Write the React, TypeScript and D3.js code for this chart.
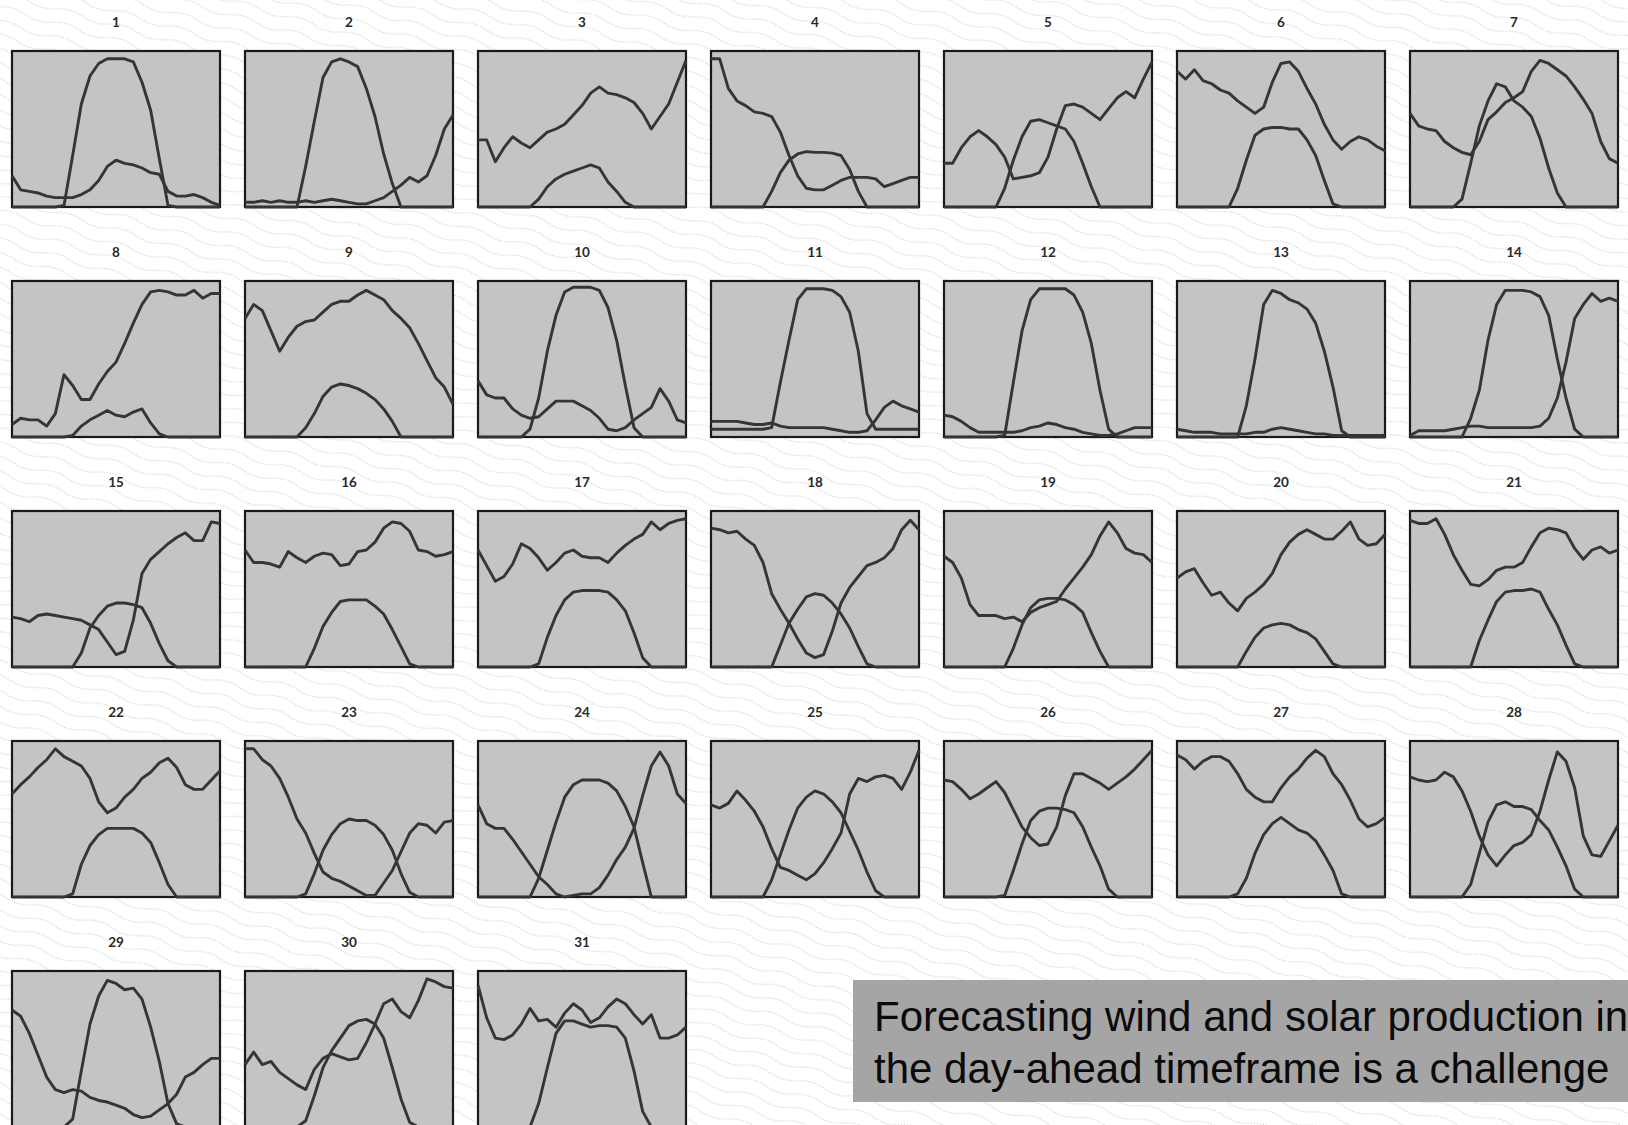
import * as d3 from "d3";

// 31 days, hourly values 0..24, normalised to the panel height (0 = bottom, 1 = top)
const dayLabels = d3.range(1, 32).map(String);
const hours = d3.range(0, 25);

const wind = [
  [.20,.11,.10,.09,.07,.06,.06,.06,.08,.11,.17,.26,.30,.28,.27,.25,.22,.21,.10,.07,.07,.08,.06,.03,.01],
  [.03,.03,.04,.03,.04,.03,.03,.04,.03,.04,.05,.04,.03,.02,.02,.04,.06,.10,.14,.19,.16,.20,.33,.50,.59],
  [.43,.43,.29,.38,.45,.41,.38,.43,.48,.50,.53,.59,.65,.73,.77,.73,.72,.70,.67,.60,.50,.58,.66,.80,.94],
  [.95,.95,.76,.68,.65,.61,.60,.58,.48,.33,.20,.12,.11,.11,.14,.17,.19,.19,.19,.18,.13,.15,.17,.19,.19],
  [.28,.28,.38,.45,.49,.45,.40,.32,.18,.19,.20,.22,.32,.50,.65,.66,.64,.60,.56,.63,.70,.74,.70,.82,.93],
  [.87,.82,.88,.81,.79,.75,.73,.68,.64,.60,.64,.80,.92,.93,.87,.76,.66,.53,.43,.37,.42,.45,.43,.39,.36],
  [.60,.52,.50,.49,.42,.38,.35,.335,.42,.56,.61,.67,.70,.74,.87,.94,.92,.88,.84,.77,.69,.60,.42,.31,.28],
  [.08,.12,.11,.11,.07,.15,.40,.33,.24,.24,.34,.42,.48,.60,.73,.85,.93,.94,.93,.91,.91,.94,.89,.92,.92],
  [.76,.85,.81,.68,.55,.64,.71,.74,.75,.80,.85,.87,.87,.91,.94,.91,.88,.81,.76,.70,.60,.49,.38,.32,.21],
  [.36,.27,.25,.25,.18,.14,.12,.13,.18,.23,.23,.23,.20,.17,.12,.05,.04,.06,.11,.15,.19,.31,.23,.11,.09],
  [.10,.10,.10,.10,.09,.08,.08,.09,.07,.06,.06,.06,.06,.06,.05,.04,.03,.03,.04,.11,.19,.23,.20,.18,.16],
  [.14,.13,.10,.06,.03,.03,.03,.03,.03,.04,.06,.07,.09,.08,.06,.05,.03,.02,.01,.01,.02,.04,.06,.06,.06],
  [.05,.04,.03,.03,.03,.02,.02,.02,.02,.03,.03,.05,.06,.05,.04,.03,.02,.02,.01,.01,.01,.01,.01,.01,.01],
  [.01,.04,.04,.04,.04,.05,.06,.07,.07,.06,.06,.06,.06,.06,.06,.07,.12,.25,.48,.76,.85,.92,.87,.89,.87],
  [.32,.31,.29,.33,.34,.33,.32,.31,.30,.27,.24,.16,.08,.10,.30,.60,.69,.74,.79,.83,.86,.81,.81,.93,.92],
  [.75,.67,.67,.66,.64,.74,.70,.67,.71,.73,.72,.65,.66,.74,.75,.80,.89,.93,.92,.87,.75,.74,.71,.72,.74],
  [.75,.65,.55,.58,.66,.79,.76,.70,.62,.67,.73,.75,.71,.70,.70,.67,.73,.78,.82,.85,.93,.88,.92,.94,.95],
  [.89,.88,.86,.87,.82,.78,.67,.47,.37,.28,.18,.09,.06,.08,.23,.41,.51,.58,.65,.67,.70,.76,.88,.94,.88],
  [.71,.67,.57,.40,.33,.33,.33,.31,.32,.29,.35,.38,.40,.42,.50,.57,.64,.72,.84,.93,.86,.76,.73,.72,.67],
  [.57,.61,.63,.54,.46,.48,.41,.36,.44,.48,.53,.60,.72,.80,.85,.88,.85,.82,.82,.87,.93,.82,.78,.79,.85],
  [.94,.92,.92,.95,.85,.72,.62,.53,.52,.56,.62,.64,.64,.67,.77,.86,.89,.88,.86,.76,.69,.75,.77,.73,.75],
  [.66,.72,.77,.83,.88,.95,.90,.87,.84,.76,.61,.54,.57,.64,.69,.76,.80,.86,.89,.83,.72,.69,.69,.75,.81],
  [.95,.95,.88,.84,.76,.64,.50,.41,.28,.16,.12,.10,.07,.04,.01,.01,.09,.17,.29,.41,.47,.46,.41,.48,.49],
  [.59,.47,.44,.44,.37,.29,.21,.13,.08,.02,0,.01,.02,.02,.06,.14,.24,.32,.44,.65,.84,.93,.84,.66,.60],
  [.59,.57,.60,.68,.62,.55,.45,.31,.19,.17,.14,.11,.15,.22,.31,.41,.66,.76,.74,.77,.78,.76,.69,.80,.94],
  [.75,.74,.69,.63,.66,.70,.74,.67,.56,.45,.38,.33,.34,.45,.65,.79,.79,.76,.73,.69,.73,.77,.82,.88,.94],
  [.91,.88,.82,.87,.90,.90,.87,.79,.69,.64,.61,.61,.70,.77,.82,.89,.94,.90,.79,.72,.62,.50,.45,.47,.51],
  [.77,.75,.74,.75,.80,.77,.68,.55,.39,.27,.20,.27,.33,.35,.40,.55,.75,.93,.87,.70,.39,.27,.26,.36,.46],
  [.75,.71,.60,.46,.32,.24,.22,.24,.23,.19,.17,.16,.14,.12,.08,.06,.07,.11,.15,.21,.32,.35,.40,.44,.44],
  [.40,.48,.40,.42,.35,.31,.27,.24,.37,.44,.47,.45,.43,.44,.54,.66,.79,.82,.74,.70,.81,.95,.93,.90,.89],
  [.91,.70,.57,.56,.59,.66,.76,.68,.69,.64,.73,.79,.75,.67,.70,.77,.82,.79,.72,.66,.72,.57,.57,.59,.64],
];

const solar = [
  [0,0,0,0,0,0,.01,.33,.66,.84,.92,.95,.95,.95,.93,.80,.62,.31,.01,0,0,0,0,0,0],
  [0,0,0,0,0,0,0,.26,.55,.83,.93,.95,.93,.90,.76,.58,.34,.15,0,0,0,0,0,0,0],
  [0,0,0,0,0,0,0,.05,.13,.18,.21,.23,.25,.27,.25,.16,.10,.03,0,0,0,0,0,0,0],
  [0,0,0,0,0,0,0,.10,.22,.30,.34,.355,.35,.35,.345,.33,.24,.10,0,0,0,0,0,0,0],
  [0,0,0,0,0,0,0,.12,.30,.45,.55,.56,.54,.52,.50,.42,.28,.13,0,0,0,0,0,0,0],
  [0,0,0,0,0,0,0,.12,.30,.46,.50,.51,.51,.50,.50,.43,.33,.17,.02,0,0,0,0,0,0],
  [0,0,0,0,0,0,.05,.28,.52,.68,.79,.77,.68,.64,.58,.44,.25,.09,0,0,0,0,0,0,0],
  [0,0,0,0,0,0,0,.01,.07,.11,.14,.17,.14,.13,.16,.18,.09,.02,0,0,0,0,0,0,0],
  [0,0,0,0,0,0,0,.06,.15,.26,.32,.34,.33,.31,.28,.24,.18,.10,0,0,0,0,0,0,0],
  [0,0,0,0,0,0,.05,.25,.55,.78,.93,.96,.96,.96,.94,.83,.62,.33,.06,0,0,0,0,0,0],
  [.05,.05,.05,.05,.05,.05,.05,.06,.35,.62,.88,.95,.95,.95,.94,.90,.80,.55,.15,.05,.05,.05,.05,.05,.05],
  [0,0,0,0,0,0,0,.01,.35,.68,.88,.95,.95,.95,.95,.91,.80,.60,.30,.05,0,0,0,0,0],
  [0,0,0,0,0,0,0,0,.20,.50,.85,.94,.92,.88,.86,.82,.73,.55,.32,.04,0,0,0,0,0],
  [0,0,0,0,0,0,0,.12,.30,.62,.85,.94,.94,.94,.93,.90,.78,.50,.25,.05,0,0,0,0,0],
  [0,0,0,0,0,0,0,0,.09,.25,.33,.39,.41,.41,.40,.38,.28,.15,.04,0,0,0,0,0,0],
  [0,0,0,0,0,0,0,0,.12,.26,.35,.42,.43,.43,.43,.39,.34,.24,.13,.02,0,0,0,0,0],
  [0,0,0,0,0,0,0,.02,.19,.33,.43,.48,.49,.49,.49,.48,.43,.36,.22,.06,0,0,0,0,0],
  [0,0,0,0,0,0,0,0,.14,.28,.37,.45,.47,.46,.41,.34,.25,.13,.02,0,0,0,0,0,0],
  [0,0,0,0,0,0,0,0,.12,.27,.38,.43,.44,.44,.43,.40,.35,.22,.10,0,0,0,0,0,0],
  [0,0,0,0,0,0,0,0,.10,.19,.25,.27,.28,.27,.24,.22,.18,.10,.02,0,0,0,0,0,0],
  [0,0,0,0,0,0,0,0,.17,.30,.42,.48,.49,.49,.50,.48,.37,.27,.14,.02,0,0,0,0,0],
  [0,0,0,0,0,0,0,.02,.21,.33,.40,.44,.44,.44,.44,.41,.35,.22,.08,0,0,0,0,0,0],
  [0,0,0,0,0,0,0,.02,.15,.30,.40,.47,.50,.49,.49,.46,.40,.30,.15,.03,0,0,0,0,0],
  [0,0,0,0,0,0,0,.12,.30,.48,.64,.72,.75,.75,.75,.73,.68,.58,.45,.22,0,0,0,0,0],
  [0,0,0,0,0,0,0,.11,.27,.43,.57,.64,.68,.66,.61,.54,.42,.30,.16,.04,0,0,0,0,0],
  [0,0,0,0,0,0,0,.01,.17,.34,.49,.55,.57,.57,.56,.54,.45,.32,.20,.05,0,0,0,0,0],
  [0,0,0,0,0,0,0,.02,.12,.28,.40,.47,.51,.47,.43,.41,.36,.27,.17,.02,0,0,0,0,0],
  [0,0,0,0,0,0,0,.08,.28,.48,.59,.61,.58,.58,.56,.49,.43,.32,.20,.05,0,0,0,0,0],
  [0,0,0,0,0,0,0,.05,.36,.66,.84,.94,.92,.88,.89,.82,.64,.42,.15,.02,0,0,0,0,0],
  [0,0,0,0,0,0,0,.04,.20,.38,.49,.57,.65,.68,.69,.66,.57,.38,.18,.03,0,0,0,0,0],
  [0,0,0,0,0,0,0,.15,.38,.60,.68,.68,.66,.64,.65,.65,.64,.57,.36,.10,0,0,0,0,0],
];

const caption = [
  "Forecasting wind and solar production in",
  "the day-ahead timeframe is a challenge",
];

const W = 1628;
const H = 1125;
const COLS = 7;
const panelW = 208;
const panelH = 156;

export default function App() {
  const colX = d3.scaleLinear().domain([0, 1]).range([12, 245]);
  const rowY = d3.scaleLinear().domain([0, 1]).range([51, 281]);
  const x = d3.scaleLinear().domain([0, 24]).range([0, panelW]);
  const y = d3.scaleLinear().domain([0, 1]).range([panelH, 0]);
  const line = d3
    .line<number>()
    .x((_, i) => x(hours[i]))
    .y((d) => y(d));

  return (
    <svg
      width={W}
      height={H}
      viewBox={`0 0 ${W} ${H}`}
      style={{ position: "absolute", left: 0, top: 0, overflow: "hidden" }}
    >
      <defs>
        <pattern id="paper" width={56} height={14} patternUnits="userSpaceOnUse" patternTransform="rotate(16)">
          <rect width={56} height={14} fill="#ffffff" />
          <path d="M0 7 Q14 2 28 7 T56 7" fill="none" stroke="#b4b4b4" strokeWidth={0.9} strokeDasharray="1.2 1.8" />
        </pattern>
        <clipPath id="page">
          <rect width={W} height={H} />
        </clipPath>
      </defs>
      <rect width={W} height={H} fill="url(#paper)" />
      <g clipPath="url(#page)">
        {dayLabels.map((label, i) => {
          const tx = colX(i % COLS);
          const ty = rowY(Math.floor(i / COLS));
          return (
            <g key={label} transform={`translate(${tx},${ty})`}>
              <text
                x={panelW / 2}
                y={-24}
                textAnchor="middle"
                fontFamily="Lato, 'Open Sans', sans-serif"
                fontWeight={700}
                fontSize={13.5}
                fill="#2a2a2a"
              >
                {label}
              </text>
              <rect width={panelW} height={panelH} fill="#c4c4c4" stroke="#1a1a1a" strokeWidth={2.2} />
              <path d={line(wind[i]) ?? ""} fill="none" stroke="#353535" strokeWidth={2.9} strokeLinejoin="round" />
              <path d={line(solar[i]) ?? ""} fill="none" stroke="#353535" strokeWidth={2.9} strokeLinejoin="round" />
            </g>
          );
        })}
        <rect x={853} y={980} width={W - 853} height={122} fill="#a5a5a5" />
        <text fontFamily="'Liberation Sans', Arial, sans-serif" fontSize={42} fill="#0a0a0a">
          {caption.map((t, k) => (
            <tspan key={k} x={874} y={1031 + k * 52}>
              {t}
            </tspan>
          ))}
        </text>
      </g>
    </svg>
  );
}
